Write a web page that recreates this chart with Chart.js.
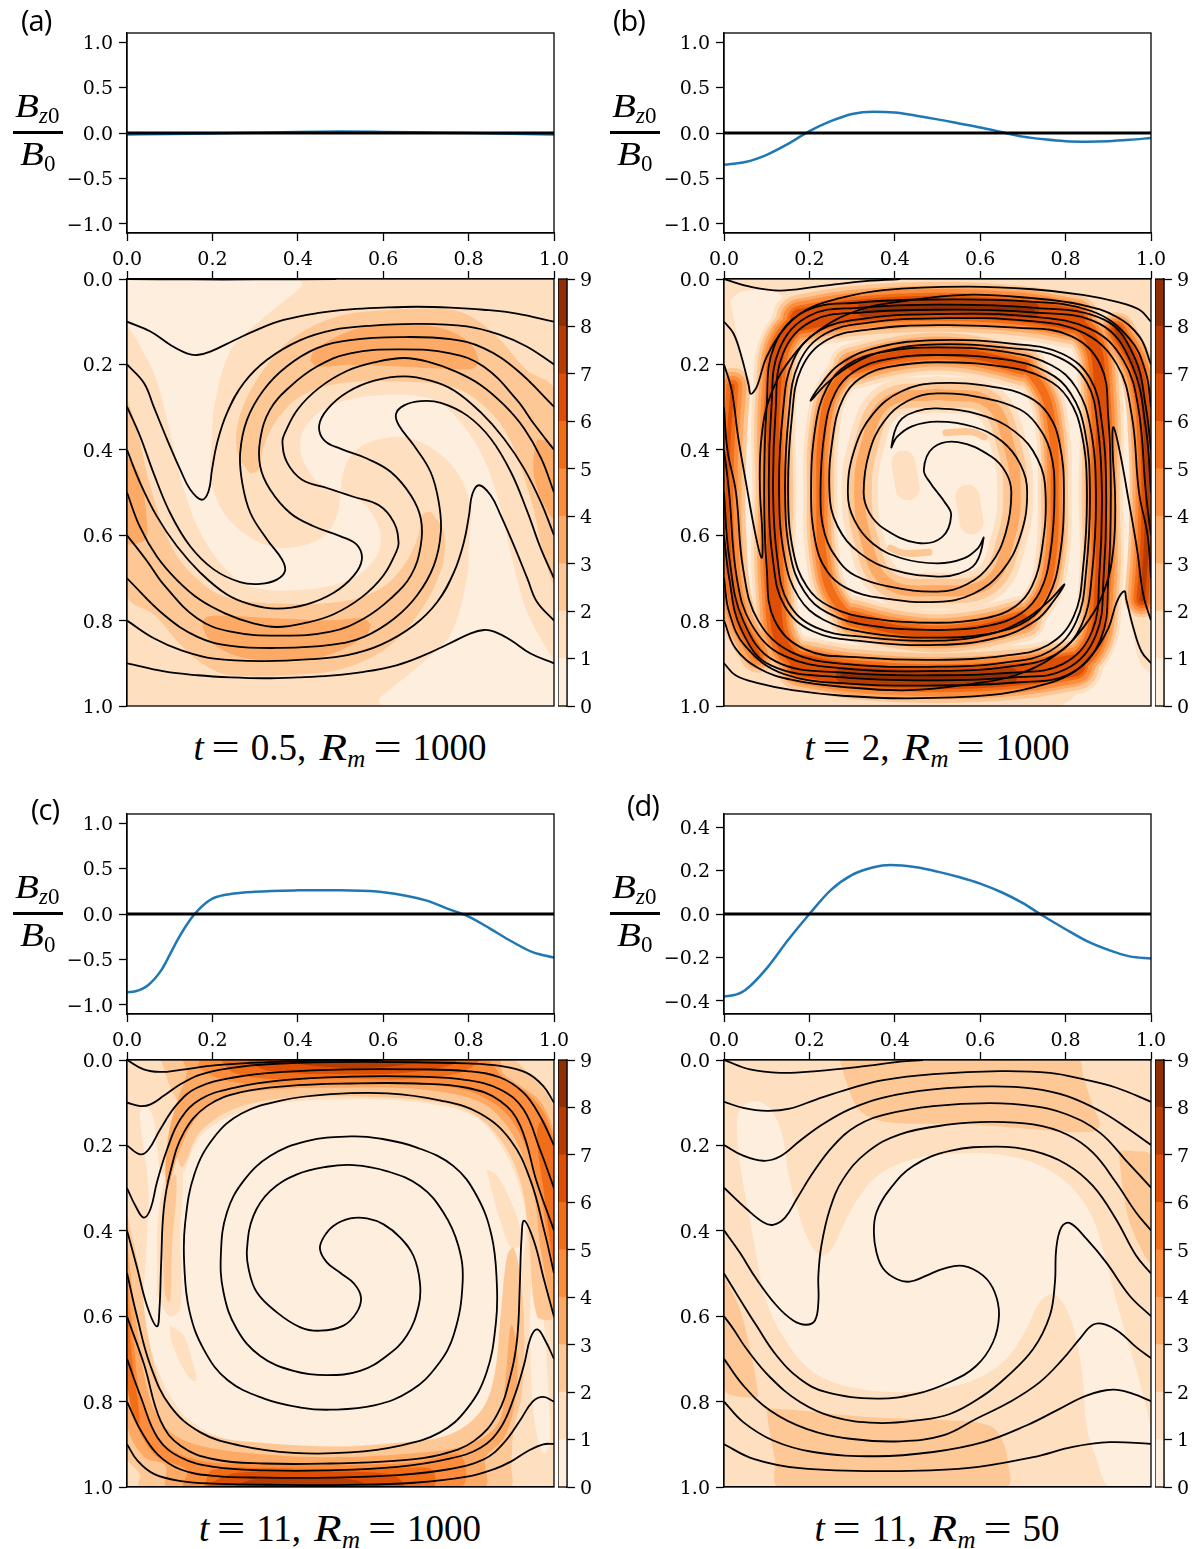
<!DOCTYPE html>
<html>
<head>
<meta charset="utf-8">
<title>Bz0 and field lines</title>
<script src="https://cdn.jsdelivr.net/npm/chart.js@4"></script>
<style>
  body { margin: 0; background: #fff; }
  #page { position: relative; width: 1196px; height: 1549px; overflow: hidden; }
  canvas { position: absolute; }
  .note { position: absolute; white-space: nowrap; color: #000; }
  .letter { font: 29px "Open Sans", sans-serif; letter-spacing: -1px; }
  .title { font: 37px "Liberation Serif", serif; transform: translateX(-50%); }
  .title .eq { display: inline-block; width: 28px; margin: 0 11px 0 8px; transform: scaleX(1.35); transform-origin: left; }
  .title .big { display: inline-block; width: 28px; margin-left: 13px; transform: scaleX(1.22); transform-origin: left; font-style: italic; }
  .title sub { font-size: 25px; line-height: 0; vertical-align: -7px; font-style: italic; }
  .math { font: italic 34px "Liberation Serif", serif; }
  .math .big { display: inline-block; width: 24px; transform: scaleX(1.15); transform-origin: left; }
  .math sub { font-size: 23px; line-height: 0; vertical-align: -6px; }
  .math sub b { font-weight: normal; font-style: normal; }
  .bar { position: absolute; width: 50px; height: 3px; background: #000; }
</style>
</head>
<body>
<div id="page"></div>
<script>
// ---------- data ----------
const unitTicks = [-1, -0.5, 0, 0.5, 1]
const smallTicks = [-0.4, -0.2, 0, 0.2, 0.4]
const xTicks = [0, 0.2, 0.4, 0.6, 0.8, 1]
const colorTicks = [0, 1, 2, 3, 4, 5, 6, 7, 8, 9]

// orange colour of each contour band 0-1, 1-2 ... 8-9
const bandColors = ['#feeede', '#fedfc0', '#fdc896', '#fdaa66', '#fd8d3c', '#f26d17', '#de4f05', '#b73c02', '#902e04']

// Bz0/B0 curves
const curveA = [[0, -0.016], [0.1, -0.012], [0.2, -0.006], [0.3, 0.004], [0.4, 0.012], [0.5, 0.016], [0.6, 0.012], [0.7, 0.006], [0.8, 0], [0.9, -0.008], [1, -0.016]]
const curveB = [[0, -0.35], [0.05, -0.32], [0.1, -0.24], [0.15, -0.12], [0.2, 0.02], [0.25, 0.13], [0.3, 0.21], [0.35, 0.235], [0.4, 0.225], [0.45, 0.19], [0.5, 0.15], [0.55, 0.105], [0.6, 0.06], [0.65, 0.01], [0.7, -0.04], [0.75, -0.07], [0.8, -0.09], [0.85, -0.095], [0.9, -0.09], [0.95, -0.075], [1, -0.055]]
const curveC = [[0, -0.86], [0.02, -0.85], [0.05, -0.78], [0.08, -0.62], [0.1, -0.45], [0.12, -0.27], [0.15, -0.05], [0.17, 0.06], [0.2, 0.17], [0.25, 0.225], [0.3, 0.245], [0.4, 0.26], [0.45, 0.262], [0.5, 0.26], [0.6, 0.24], [0.7, 0.15], [0.75, 0.06], [0.8, -0.03], [0.85, -0.16], [0.9, -0.3], [0.95, -0.42], [1, -0.48]]
const curveD = [[0, -0.38], [0.03, -0.37], [0.05, -0.35], [0.1, -0.25], [0.15, -0.12], [0.2, 0], [0.25, 0.11], [0.3, 0.18], [0.35, 0.215], [0.39, 0.225], [0.45, 0.215], [0.5, 0.195], [0.55, 0.17], [0.6, 0.14], [0.65, 0.1], [0.7, 0.05], [0.74, 0], [0.8, -0.07], [0.85, -0.125], [0.9, -0.165], [0.95, -0.195], [1, -0.205]]
const zeroLine = [[0, 0], [1, 0]]

const wholeBox = [[0, 0], [1, 0], [1, 1], [0, 1], [0, 0]]

// panel (a): contour regions as [band, outline], painted in order
const regionsA = [
  [1, wholeBox],
  [0, [[0.5, 0.5], [0.491, 0.556], [0.46, 0.603], [0.398, 0.627], [0.335, 0.626], [0.273, 0.595], [0.222, 0.54], [0.195, 0.462], [0.199, 0.385], [0.204, 0.3], [0.243, 0.166], [0.314, 0.096], [0.37, 0.05], [0.41, 0.014], [0.398, 0], [0, 0], [0, 0.1], [0.027, 0.15], [0.066, 0.228], [0.098, 0.345], [0.133, 0.493], [0.172, 0.594], [0.226, 0.673], [0.289, 0.72], [0.421, 0.727], [0.53, 0.7], [0.585, 0.649], [0.594, 0.6], [0.58, 0.56], [0.55, 0.522], [0.5, 0.5]]],
  [0, [[0.5, 0.5], [0.509, 0.444], [0.54, 0.397], [0.602, 0.373], [0.665, 0.374], [0.727, 0.405], [0.778, 0.46], [0.805, 0.538], [0.801, 0.615], [0.796, 0.7], [0.757, 0.834], [0.686, 0.904], [0.63, 0.95], [0.59, 0.986], [0.602, 1], [1, 1], [1, 0.9], [0.973, 0.85], [0.934, 0.772], [0.902, 0.655], [0.867, 0.507], [0.828, 0.406], [0.774, 0.327], [0.711, 0.28], [0.579, 0.273], [0.47, 0.3], [0.415, 0.351], [0.406, 0.4], [0.42, 0.44], [0.45, 0.478], [0.5, 0.5]]],
  [2, [[0.289, 0.456], [0.261, 0.415], [0.256, 0.361], [0.269, 0.306], [0.304, 0.236], [0.374, 0.15], [0.468, 0.096], [0.562, 0.076], [0.757, 0.072], [0.819, 0.096], [0.874, 0.143], [0.936, 0.213], [1, 0.26], [1, 0.71], [0.975, 0.641], [0.944, 0.509], [0.889, 0.361], [0.819, 0.283], [0.757, 0.252], [0.64, 0.24], [0.499, 0.244], [0.406, 0.275], [0.351, 0.33], [0.32, 0.392], [0.308, 0.447], [0.289, 0.456]]],
  [2, [[0.711, 0.544], [0.739, 0.585], [0.744, 0.639], [0.731, 0.694], [0.696, 0.764], [0.626, 0.85], [0.532, 0.904], [0.438, 0.924], [0.243, 0.928], [0.181, 0.904], [0.126, 0.857], [0.064, 0.787], [0, 0.74], [0, 0.29], [0.025, 0.359], [0.056, 0.491], [0.111, 0.639], [0.181, 0.717], [0.243, 0.748], [0.36, 0.76], [0.501, 0.756], [0.594, 0.725], [0.649, 0.67], [0.68, 0.608], [0.692, 0.553], [0.711, 0.544]]],
  [3, [[0.429, 0.19], [0.437, 0.17], [0.484, 0.138], [0.562, 0.111], [0.679, 0.107], [0.749, 0.119], [0.803, 0.15], [0.823, 0.19], [0.811, 0.209], [0.757, 0.211], [0.64, 0.205], [0.523, 0.201], [0.445, 0.205], [0.429, 0.19]]],
  [3, [[0.571, 0.81], [0.563, 0.83], [0.516, 0.862], [0.438, 0.889], [0.321, 0.893], [0.251, 0.881], [0.197, 0.85], [0.177, 0.81], [0.189, 0.791], [0.243, 0.789], [0.36, 0.795], [0.477, 0.799], [0.555, 0.795], [0.571, 0.81]]],
  [3, [[0, 0.415], [0.03, 0.462], [0.047, 0.571], [0.043, 0.61], [0.008, 0.622], [0, 0.618], [0, 0.415]]],
  [3, [[0.96, 0.376], [0.983, 0.38], [1, 0.4], [1, 0.56], [0.975, 0.525], [0.955, 0.47], [0.952, 0.42], [0.96, 0.376]]]
]

// panel (a): field lines
const linesA = [
  [[0, 0], [0.15, 0.001], [0.3, 0.001], [0.49, 0]],
  [[0, 0.1], [0.055, 0.123], [0.101, 0.154], [0.14, 0.174], [0.164, 0.178], [0.195, 0.17], [0.25, 0.144], [0.304, 0.119], [0.367, 0.096], [0.445, 0.08], [0.523, 0.071], [0.6, 0.067], [0.679, 0.065], [0.757, 0.067], [0.835, 0.072], [0.913, 0.081], [1, 0.1]],
  [[0, 0.2], [0.04, 0.244], [0.0625, 0.299], [0.094, 0.376], [0.125, 0.447], [0.148, 0.493], [0.175, 0.517], [0.191, 0.497], [0.199, 0.447], [0.211, 0.384], [0.234, 0.314], [0.273, 0.244], [0.328, 0.189], [0.406, 0.143], [0.484, 0.119], [0.562, 0.11], [0.679, 0.105], [0.796, 0.111], [0.874, 0.131], [0.936, 0.158], [1, 0.2]],
  [[0, 0.299], [0.031, 0.369], [0.062, 0.454], [0.101, 0.548], [0.148, 0.626], [0.203, 0.68], [0.265, 0.71], [0.312, 0.714], [0.351, 0.704], [0.37, 0.684], [0.363, 0.657], [0.328, 0.61], [0.289, 0.548], [0.27, 0.478], [0.265, 0.408], [0.281, 0.33], [0.32, 0.26], [0.374, 0.205], [0.445, 0.162], [0.523, 0.143], [0.64, 0.136], [0.757, 0.141], [0.835, 0.162], [0.913, 0.213], [1, 0.299]],
  [[0, 0.4], [0.031, 0.478], [0.07, 0.556], [0.117, 0.626], [0.172, 0.688], [0.234, 0.739], [0.289, 0.762], [0.351, 0.772], [0.421, 0.762], [0.484, 0.735], [0.53, 0.696], [0.55, 0.657], [0.538, 0.622], [0.499, 0.602], [0.437, 0.579], [0.382, 0.548], [0.335, 0.493], [0.312, 0.439], [0.312, 0.376], [0.335, 0.306], [0.382, 0.252], [0.445, 0.205], [0.523, 0.174], [0.64, 0.165], [0.757, 0.174], [0.835, 0.205], [0.913, 0.283], [0.952, 0.338], [1, 0.4]],
  [[0, 0.5], [0.03, 0.58], [0.07, 0.65], [0.117, 0.705], [0.172, 0.752], [0.234, 0.785], [0.29, 0.805], [0.351, 0.815], [0.42, 0.805], [0.484, 0.785], [0.55, 0.745], [0.6, 0.695], [0.63, 0.64], [0.636, 0.618], [0.625, 0.57], [0.59, 0.53], [0.53, 0.51], [0.5, 0.5], [0.47, 0.49], [0.41, 0.47], [0.375, 0.43], [0.364, 0.382], [0.37, 0.36], [0.4, 0.305], [0.45, 0.255], [0.516, 0.215], [0.58, 0.195], [0.649, 0.185], [0.71, 0.195], [0.766, 0.215], [0.828, 0.248], [0.883, 0.295], [0.93, 0.35], [0.97, 0.42], [1, 0.5]],
  [[1, 0.6], [0.969, 0.522], [0.93, 0.444], [0.883, 0.374], [0.828, 0.312], [0.766, 0.261], [0.711, 0.238], [0.649, 0.228], [0.579, 0.238], [0.516, 0.265], [0.47, 0.304], [0.45, 0.343], [0.462, 0.378], [0.501, 0.398], [0.563, 0.421], [0.618, 0.452], [0.665, 0.507], [0.688, 0.561], [0.688, 0.624], [0.665, 0.694], [0.618, 0.748], [0.555, 0.795], [0.477, 0.826], [0.36, 0.835], [0.243, 0.826], [0.165, 0.795], [0.087, 0.717], [0.048, 0.662], [0, 0.6]],
  [[1, 0.701], [0.969, 0.631], [0.938, 0.546], [0.899, 0.452], [0.852, 0.374], [0.797, 0.32], [0.735, 0.29], [0.688, 0.286], [0.649, 0.296], [0.63, 0.316], [0.637, 0.343], [0.672, 0.39], [0.711, 0.452], [0.73, 0.522], [0.735, 0.592], [0.719, 0.67], [0.68, 0.74], [0.626, 0.795], [0.555, 0.838], [0.477, 0.857], [0.36, 0.864], [0.243, 0.859], [0.165, 0.838], [0.087, 0.787], [0, 0.701]],
  [[1, 0.8], [0.96, 0.756], [0.9375, 0.701], [0.906, 0.624], [0.875, 0.553], [0.852, 0.507], [0.825, 0.483], [0.809, 0.503], [0.801, 0.553], [0.789, 0.616], [0.766, 0.686], [0.727, 0.756], [0.672, 0.811], [0.594, 0.857], [0.516, 0.881], [0.438, 0.89], [0.321, 0.895], [0.204, 0.889], [0.126, 0.869], [0.064, 0.842], [0, 0.8]],
  [[1, 0.9], [0.945, 0.877], [0.899, 0.846], [0.86, 0.826], [0.836, 0.822], [0.805, 0.83], [0.75, 0.856], [0.696, 0.881], [0.633, 0.904], [0.555, 0.92], [0.477, 0.929], [0.4, 0.933], [0.321, 0.935], [0.243, 0.933], [0.165, 0.928], [0.087, 0.919], [0, 0.9]]
]

// panel (b): contour regions
const regionsB = [
  [1, wholeBox],
  [0, [[0.06, 0.18], [0.12, 0.1], [0.88, 0.1], [0.945, 0.2], [0.945, 0.82], [0.88, 0.9], [0.12, 0.9], [0.055, 0.8], [0.06, 0.18]]],
  [0, [[0.015, 0.05], [0.04, 0.03], [0.12, 0.03], [0.145, 0.06], [0.13, 0.11], [0.09, 0.18], [0.06, 0.25], [0.03, 0.13], [0.015, 0.05]]],
  [0, [[0.79, 1], [0.85, 0.95], [0.91, 0.85], [0.93, 0.73], [0.95, 0.8], [0.975, 0.9], [1, 0.93], [1, 1], [0.79, 1]]]
]

// panel (b): centre lines of the spiral colour bands
const ringOuterB = [[0.5, 0.065], [0.72, 0.073], [0.85, 0.125], [0.882, 0.28], [0.882, 0.5], [0.882, 0.72], [0.85, 0.875], [0.72, 0.927], [0.5, 0.935], [0.28, 0.927], [0.15, 0.875], [0.118, 0.72], [0.118, 0.5], [0.118, 0.28], [0.15, 0.125], [0.28, 0.073], [0.5, 0.065]]
const arcTopB = [[0.18, 0.095], [0.3, 0.075], [0.5, 0.065], [0.7, 0.075], [0.82, 0.095]]
const arcBottomB = [[0.82, 0.905], [0.7, 0.925], [0.5, 0.935], [0.3, 0.925], [0.18, 0.905]]
const coreTopB = [[0.33, 0.072], [0.5, 0.065], [0.72, 0.072]]
const coreBottomB = [[0.67, 0.928], [0.5, 0.935], [0.28, 0.928]]
const ringMiddleB = [[0.5, 0.17], [0.66, 0.185], [0.74, 0.25], [0.77, 0.36], [0.774, 0.5], [0.77, 0.64], [0.74, 0.75], [0.66, 0.815], [0.5, 0.83], [0.34, 0.815], [0.26, 0.75], [0.23, 0.64], [0.226, 0.5], [0.23, 0.36], [0.26, 0.25], [0.34, 0.185], [0.5, 0.17]]
const arcMiddleTopB = [[0.3, 0.205], [0.4, 0.18], [0.5, 0.17], [0.6, 0.18], [0.7, 0.205]]
const arcMiddleBottomB = [[0.7, 0.795], [0.6, 0.82], [0.5, 0.83], [0.4, 0.82], [0.3, 0.795]]
const ringInnerB = [[0.5, 0.27], [0.62, 0.29], [0.67, 0.4], [0.682, 0.5], [0.67, 0.6], [0.62, 0.71], [0.5, 0.73], [0.38, 0.71], [0.33, 0.6], [0.318, 0.5], [0.33, 0.4], [0.38, 0.29], [0.5, 0.27]]
const leftEdgeB = [[0.02, 0.25], [0.01, 0.4], [0.01, 0.6], [0.03, 0.78], [0.08, 0.88]]
const rightEdgeB = [[0.98, 0.75], [0.99, 0.6], [0.99, 0.4], [0.97, 0.22], [0.92, 0.12]]
const centreBlobsB = [[[0.42, 0.43], [0.43, 0.49]], [[0.58, 0.57], [0.57, 0.51]]]
const smallBlobsB = [[[0.52, 0.36], [0.58, 0.358], [0.61, 0.37]], [[0.48, 0.64], [0.42, 0.642], [0.39, 0.63]]]

// panel (b): field lines
const linesB = [
  [[0, 0], [0.061, 0.018], [0.131, 0.027], [0.217, 0.018], [0.318, 0.006], [0.412, 0]],
  [[0, 0.1], [0.022, 0.127], [0.041, 0.182], [0.058, 0.25], [0.0624, 0.269], [0.0725, 0.26], [0.08, 0.244], [0.1, 0.182], [0.139, 0.119], [0.193, 0.072], [0.271, 0.045], [0.373, 0.026], [0.567, 0.018], [0.723, 0.024], [0.84, 0.037], [0.918, 0.053], [0.973, 0.072], [1, 0.1]],
  [[0, 0.2], [0.018, 0.26], [0.033, 0.369], [0.053, 0.485], [0.073, 0.595], [0.088, 0.653], [0.09, 0.603], [0.084, 0.485], [0.088, 0.369], [0.108, 0.275], [0.154, 0.19], [0.224, 0.119], [0.318, 0.072], [0.412, 0.053], [0.567, 0.037], [0.723, 0.045], [0.84, 0.061], [0.918, 0.088], [0.973, 0.135], [1, 0.2]],
  [[0, 0.3], [0.008, 0.4], [0.028, 0.5], [0.045, 0.68], [0.08, 0.8], [0.16, 0.875], [0.288, 0.902], [0.5, 0.908], [0.661, 0.898], [0.764, 0.871], [0.825, 0.802], [0.848, 0.684], [0.857, 0.5], [0.845, 0.355], [0.812, 0.268], [0.757, 0.218], [0.661, 0.189], [0.5, 0.178], [0.377, 0.189], [0.303, 0.218], [0.26, 0.268], [0.236, 0.355], [0.226, 0.5], [0.236, 0.597], [0.27, 0.662], [0.308, 0.695], [0.385, 0.72], [0.5, 0.732], [0.569, 0.715], [0.625, 0.667], [0.66, 0.593], [0.673, 0.5], [0.66, 0.453], [0.625, 0.415], [0.548, 0.382], [0.49, 0.395], [0.468, 0.447], [0.485, 0.48], [0.5, 0.5], [0.515, 0.52], [0.532, 0.553], [0.51, 0.605], [0.452, 0.618], [0.375, 0.585], [0.34, 0.547], [0.327, 0.5], [0.34, 0.407], [0.375, 0.333], [0.431, 0.285], [0.5, 0.268], [0.615, 0.28], [0.692, 0.305], [0.73, 0.338], [0.764, 0.403], [0.774, 0.5], [0.764, 0.645], [0.74, 0.732], [0.697, 0.782], [0.623, 0.811], [0.5, 0.822], [0.339, 0.811], [0.243, 0.782], [0.188, 0.732], [0.155, 0.645], [0.143, 0.5], [0.152, 0.316], [0.175, 0.198], [0.236, 0.129], [0.339, 0.102], [0.5, 0.092], [0.712, 0.098], [0.84, 0.125], [0.92, 0.2], [0.955, 0.32], [0.972, 0.5], [0.992, 0.6], [1, 0.7]],
  [[0, 0.4], [0.012, 0.5], [0.03, 0.7], [0.065, 0.81], [0.14, 0.882], [0.28, 0.912], [0.5, 0.918], [0.667, 0.908], [0.775, 0.88], [0.838, 0.809], [0.862, 0.688], [0.871, 0.5], [0.858, 0.347], [0.825, 0.255], [0.767, 0.202], [0.667, 0.172], [0.5, 0.16], [0.367, 0.172], [0.287, 0.202], [0.241, 0.255], [0.214, 0.347], [0.204, 0.5], [0.214, 0.615], [0.241, 0.684], [0.287, 0.724], [0.367, 0.747], [0.5, 0.756], [0.584, 0.737], [0.651, 0.684], [0.694, 0.602], [0.71, 0.5], [0.694, 0.434], [0.651, 0.38], [0.584, 0.346], [0.5, 0.334], [0.44, 0.345], [0.405, 0.37], [0.392, 0.394], [0.41, 0.335], [0.45, 0.31], [0.5, 0.303], [0.601, 0.318], [0.682, 0.358], [0.734, 0.421], [0.753, 0.5], [0.744, 0.637], [0.721, 0.72], [0.682, 0.767], [0.614, 0.794], [0.5, 0.805], [0.342, 0.794], [0.248, 0.767], [0.194, 0.72], [0.162, 0.637], [0.15, 0.5], [0.159, 0.324], [0.181, 0.21], [0.241, 0.143], [0.342, 0.118], [0.5, 0.108], [0.683, 0.114], [0.809, 0.132], [0.882, 0.202], [0.9, 0.324], [0.906, 0.5], [0.9, 0.703], [0.882, 0.844], [0.809, 0.925], [0.683, 0.945], [0.5, 0.952], [0.3, 0.948], [0.14, 0.925], [0.05, 0.86], [0.012, 0.78], [0, 0.7]],
  [[1, 0.6], [0.988, 0.5], [0.97, 0.3], [0.935, 0.19], [0.86, 0.118], [0.72, 0.088], [0.5, 0.082], [0.333, 0.092], [0.225, 0.12], [0.162, 0.191], [0.138, 0.312], [0.129, 0.5], [0.142, 0.653], [0.175, 0.745], [0.233, 0.798], [0.333, 0.828], [0.5, 0.84], [0.633, 0.828], [0.713, 0.798], [0.759, 0.745], [0.786, 0.653], [0.796, 0.5], [0.786, 0.385], [0.759, 0.316], [0.713, 0.276], [0.633, 0.253], [0.5, 0.244], [0.416, 0.263], [0.349, 0.316], [0.306, 0.398], [0.29, 0.5], [0.306, 0.566], [0.349, 0.62], [0.416, 0.654], [0.5, 0.666], [0.56, 0.655], [0.595, 0.63], [0.608, 0.606], [0.59, 0.665], [0.55, 0.69], [0.5, 0.697], [0.399, 0.682], [0.318, 0.642], [0.266, 0.579], [0.247, 0.5], [0.256, 0.363], [0.279, 0.28], [0.318, 0.233], [0.386, 0.206], [0.5, 0.195], [0.658, 0.206], [0.752, 0.233], [0.806, 0.28], [0.838, 0.363], [0.85, 0.5], [0.841, 0.676], [0.819, 0.79], [0.759, 0.857], [0.658, 0.882], [0.5, 0.892], [0.317, 0.886], [0.191, 0.868], [0.118, 0.798], [0.1, 0.676], [0.094, 0.5], [0.1, 0.297], [0.118, 0.156], [0.191, 0.075], [0.317, 0.055], [0.5, 0.048], [0.7, 0.052], [0.86, 0.075], [0.95, 0.14], [0.988, 0.22], [1, 0.3]],
  [[0, 0.6], [0.012, 0.7], [0.04, 0.82], [0.11, 0.905], [0.28, 0.933], [0.5, 0.94], [0.678, 0.933], [0.8, 0.914], [0.871, 0.834], [0.889, 0.698], [0.895, 0.5], [0.885, 0.339], [0.859, 0.236], [0.792, 0.175], [0.678, 0.152], [0.5, 0.143], [0.36, 0.16], [0.27, 0.2], [0.225, 0.25], [0.203, 0.285], [0.24, 0.245], [0.3, 0.2], [0.38, 0.168], [0.5, 0.153], [0.673, 0.162], [0.785, 0.184], [0.85, 0.243], [0.875, 0.344], [0.885, 0.5], [0.879, 0.693], [0.862, 0.825], [0.793, 0.902], [0.673, 0.922], [0.5, 0.928], [0.28, 0.922], [0.12, 0.895], [0.045, 0.8], [0.012, 0.65], [0, 0.5]],
  [[1, 0.4], [0.988, 0.3], [0.96, 0.18], [0.89, 0.095], [0.72, 0.067], [0.5, 0.06], [0.322, 0.067], [0.2, 0.086], [0.129, 0.166], [0.111, 0.302], [0.105, 0.5], [0.115, 0.661], [0.141, 0.764], [0.208, 0.825], [0.322, 0.848], [0.5, 0.857], [0.64, 0.84], [0.73, 0.8], [0.775, 0.75], [0.797, 0.715], [0.76, 0.755], [0.7, 0.8], [0.62, 0.832], [0.5, 0.847], [0.327, 0.838], [0.215, 0.816], [0.15, 0.757], [0.125, 0.656], [0.115, 0.5], [0.121, 0.307], [0.138, 0.175], [0.207, 0.098], [0.327, 0.078], [0.5, 0.072], [0.72, 0.078], [0.88, 0.105], [0.955, 0.2], [0.988, 0.35], [1, 0.5]],
  [[1, 0.8], [0.982, 0.74], [0.967, 0.631], [0.947, 0.515], [0.927, 0.405], [0.912, 0.347], [0.91, 0.397], [0.916, 0.515], [0.912, 0.631], [0.892, 0.725], [0.846, 0.81], [0.776, 0.881], [0.682, 0.928], [0.588, 0.947], [0.433, 0.963], [0.277, 0.955], [0.16, 0.939], [0.082, 0.912], [0.027, 0.865], [0, 0.8]],
  [[1, 0.9], [0.978, 0.873], [0.959, 0.818], [0.942, 0.75], [0.9375, 0.731], [0.92, 0.756], [0.9, 0.818], [0.861, 0.881], [0.807, 0.928], [0.729, 0.955], [0.627, 0.974], [0.433, 0.982], [0.277, 0.976], [0.16, 0.963], [0.082, 0.947], [0.027, 0.928], [0, 0.9]]
]

// panel (c): contour regions
const regionsC = [
  [1, wholeBox],
  [0, [[0.135, 0.26], [0.172, 0.178], [0.25, 0.128], [0.367, 0.1], [0.562, 0.092], [0.718, 0.104], [0.819, 0.135], [0.881, 0.209], [0.92, 0.3], [0.935, 0.38], [0.925, 0.5], [0.915, 0.65], [0.885, 0.8], [0.83, 0.86], [0.763, 0.885], [0.64, 0.895], [0.484, 0.905], [0.328, 0.9], [0.21, 0.88], [0.133, 0.83], [0.078, 0.74], [0.04, 0.6], [0.045, 0.45], [0.05, 0.3], [0.03, 0.13], [0.04, 0.105], [0.06, 0.13], [0.07, 0.2], [0.085, 0.27], [0.135, 0.26]]],
  [0, [[0.955, 0.45], [0.975, 0.6], [0.985, 0.75], [0.99, 0.9], [0.975, 0.92], [0.955, 0.85], [0.945, 0.7], [0.945, 0.55], [0.955, 0.45]]],
  [1, [[0.07, 0.55], [0.075, 0.35], [0.11, 0.22], [0.13, 0.25], [0.125, 0.4], [0.125, 0.58], [0.1, 0.6], [0.07, 0.55]]],
  [1, [[0.101, 0.622], [0.133, 0.646], [0.156, 0.717], [0.162, 0.751], [0.148, 0.747], [0.117, 0.693], [0.101, 0.646], [0.101, 0.622]]],
  [1, [[0.842, 0.256], [0.865, 0.268], [0.893, 0.318], [0.917, 0.38], [0.925, 0.43], [0.9, 0.44], [0.875, 0.38], [0.855, 0.31], [0.842, 0.256]]],
  [2, [[0.09, 0.3], [0.115, 0.27], [0.105, 0.45], [0.102, 0.56], [0.095, 0.565], [0.087, 0.53], [0.085, 0.4], [0.09, 0.3]]],
  [2, [[0.08, 0], [0.1, 0.06], [0.13, 0.13], [0.115, 0.2], [0.13, 0.25], [0.17, 0.17], [0.25, 0.115], [0.36, 0.09], [0.5, 0.085], [0.7, 0.095], [0.8, 0.12], [0.87, 0.18], [0.92, 0.28], [0.94, 0.4], [0.96, 0.6], [1, 0.6], [1, 0.12], [0.97, 0.06], [0.94, 0.03], [0.9, 0], [0.08, 0]]],
  [2, [[0, 0.36], [0.03, 0.5], [0.05, 0.65], [0.085, 0.78], [0.13, 0.84], [0.2, 0.88], [0.3, 0.895], [0.5, 0.905], [0.65, 0.895], [0.76, 0.875], [0.83, 0.82], [0.86, 0.74], [0.875, 0.6], [0.89, 0.46], [0.905, 0.44], [0.92, 0.5], [0.93, 0.62], [0.925, 0.78], [0.905, 0.87], [0.9, 0.95], [0.895, 1], [0.03, 1], [0.03, 0.97], [0, 0.93], [0, 0.36]]],
  [3, [[0.13, 0], [0.14, 0.03], [0.12, 0.09], [0.1, 0.16], [0.09, 0.25], [0.095, 0.3], [0.12, 0.22], [0.16, 0.14], [0.22, 0.09], [0.33, 0.07], [0.5, 0.065], [0.7, 0.07], [0.83, 0.1], [0.9, 0.17], [0.95, 0.3], [0.97, 0.45], [1, 0.58], [1, 0.18], [0.97, 0.1], [0.92, 0.06], [0.88, 0.03], [0.87, 0], [0.13, 0]]],
  [3, [[0, 0.42], [0.02, 0.6], [0.05, 0.78], [0.09, 0.86], [0.16, 0.9], [0.3, 0.922], [0.5, 0.93], [0.68, 0.92], [0.8, 0.9], [0.87, 0.85], [0.885, 0.76], [0.9, 0.62], [0.915, 0.7], [0.905, 0.82], [0.88, 0.89], [0.84, 0.93], [0.835, 1], [0.095, 1], [0.09, 0.95], [0.04, 0.93], [0, 0.85], [0, 0.42]]],
  [4, [[0.17, 0], [0.17, 0.02], [0.24, 0.05], [0.34, 0.058], [0.5, 0.055], [0.7, 0.058], [0.82, 0.08], [0.9, 0.14], [0.96, 0.28], [1, 0.5], [1, 0.2], [0.98, 0.13], [0.94, 0.08], [0.88, 0.04], [0.84, 0], [0.17, 0]]],
  [4, [[0, 0.5], [0.015, 0.65], [0.03, 0.78], [0.06, 0.86], [0.1, 0.91], [0.18, 0.94], [0.3, 0.945], [0.5, 0.948], [0.68, 0.942], [0.78, 0.925], [0.78, 1], [0.135, 1], [0.14, 0.96], [0.07, 0.93], [0.02, 0.85], [0, 0.75], [0, 0.5]]],
  [5, [[0.22, 0], [0.25, 0.03], [0.35, 0.045], [0.5, 0.043], [0.65, 0.045], [0.78, 0.03], [0.82, 0], [0.22, 0]]],
  [5, [[1, 0.2], [0.975, 0.14], [0.96, 0.17], [0.975, 0.3], [1, 0.47], [1, 0.2]]],
  [5, [[0, 0.55], [0.012, 0.7], [0.03, 0.85], [0.015, 0.83], [0, 0.75], [0, 0.55]]],
  [5, [[0.18, 1], [0.2, 0.96], [0.3, 0.955], [0.5, 0.958], [0.65, 0.955], [0.715, 0.96], [0.715, 1], [0.18, 1]]],
  [6, [[0.28, 0], [0.33, 0.025], [0.5, 0.033], [0.65, 0.03], [0.76, 0.012], [0.77, 0], [0.28, 0]]],
  [6, [[0.18, 1], [0.25, 0.968], [0.4, 0.965], [0.55, 0.965], [0.63, 0.975], [0.645, 1], [0.18, 1]]],
  [7, [[0.36, 0], [0.42, 0.012], [0.5, 0.018], [0.6, 0.017], [0.68, 0.005], [0.69, 0], [0.36, 0]]],
  [7, [[0.245, 1], [0.3, 0.982], [0.45, 0.978], [0.54, 0.985], [0.56, 1], [0.245, 1]]]
]

// panel (c): field lines
const linesC = [
  [[0, 0], [0.039, 0.022], [0.078, 0.028], [0.125, 0.023], [0.21, 0.012], [0.33, 0.005], [0.48, 0.001], [0.6, 0]],
  [[0, 0.1], [0.031, 0.108], [0.055, 0.104], [0.086, 0.084], [0.125, 0.057], [0.172, 0.034], [0.25, 0.018], [0.328, 0.01], [0.484, 0.005], [0.64, 0.005], [0.796, 0.008], [0.874, 0.014], [0.936, 0.03], [0.975, 0.061], [1, 0.1]],
  [[0, 0.2], [0.031, 0.221], [0.051, 0.209], [0.078, 0.162], [0.117, 0.104], [0.164, 0.065], [0.25, 0.041], [0.367, 0.028], [0.523, 0.022], [0.679, 0.022], [0.796, 0.026], [0.874, 0.041], [0.928, 0.076], [0.967, 0.131], [1, 0.2]],
  [[0, 0.3], [0.02, 0.342], [0.039, 0.369], [0.055, 0.349], [0.07, 0.287], [0.094, 0.209], [0.125, 0.139], [0.172, 0.092], [0.25, 0.065], [0.367, 0.047], [0.523, 0.039], [0.679, 0.039], [0.796, 0.047], [0.874, 0.069], [0.928, 0.115], [0.967, 0.209], [1, 0.3]],
  [[0, 0.399], [0.023, 0.484], [0.047, 0.576], [0.07, 0.624], [0.076, 0.583], [0.08, 0.475], [0.086, 0.35], [0.101, 0.264], [0.133, 0.17], [0.187, 0.108], [0.265, 0.076], [0.374, 0.061], [0.523, 0.055], [0.679, 0.055], [0.796, 0.065], [0.874, 0.096], [0.921, 0.154], [0.96, 0.287], [1, 0.399]],
  [[0, 0.499], [0.023, 0.599], [0.055, 0.716], [0.101, 0.81], [0.172, 0.872], [0.265, 0.903], [0.39, 0.92], [0.523, 0.919], [0.64, 0.903], [0.733, 0.872], [0.796, 0.817], [0.842, 0.732], [0.864, 0.615], [0.866, 0.521], [0.854, 0.412], [0.819, 0.318], [0.764, 0.248], [0.679, 0.205], [0.593, 0.184], [0.523, 0.179], [0.421, 0.19], [0.335, 0.225], [0.273, 0.283], [0.234, 0.357], [0.22, 0.451], [0.226, 0.544], [0.257, 0.63], [0.312, 0.693], [0.39, 0.728], [0.468, 0.738], [0.546, 0.728], [0.608, 0.693], [0.655, 0.646], [0.683, 0.576], [0.686, 0.521], [0.671, 0.459], [0.64, 0.416], [0.601, 0.385], [0.562, 0.371], [0.523, 0.371], [0.484, 0.388], [0.46, 0.416], [0.452, 0.443], [0.468, 0.474], [0.5, 0.499], [0.532, 0.524], [0.548, 0.556], [0.538, 0.591], [0.507, 0.622], [0.452, 0.634], [0.406, 0.626], [0.351, 0.591], [0.304, 0.544], [0.285, 0.49], [0.281, 0.443], [0.296, 0.365], [0.335, 0.307], [0.398, 0.268], [0.468, 0.25], [0.53, 0.246], [0.608, 0.26], [0.686, 0.295], [0.741, 0.357], [0.776, 0.435], [0.786, 0.521], [0.766, 0.641], [0.727, 0.715], [0.665, 0.774], [0.579, 0.809], [0.477, 0.819], [0.407, 0.814], [0.321, 0.793], [0.236, 0.75], [0.181, 0.68], [0.146, 0.587], [0.134, 0.477], [0.136, 0.384], [0.158, 0.267], [0.204, 0.181], [0.267, 0.126], [0.36, 0.095], [0.477, 0.08], [0.61, 0.078], [0.735, 0.095], [0.828, 0.126], [0.899, 0.189], [0.945, 0.282], [0.977, 0.399], [1, 0.499]],
  [[1, 0.601], [0.977, 0.516], [0.953, 0.424], [0.93, 0.376], [0.924, 0.417], [0.92, 0.525], [0.914, 0.65], [0.899, 0.736], [0.867, 0.83], [0.813, 0.892], [0.735, 0.924], [0.626, 0.939], [0.477, 0.945], [0.321, 0.945], [0.204, 0.935], [0.126, 0.904], [0.079, 0.846], [0.04, 0.713], [0, 0.601]],
  [[1, 0.7], [0.98, 0.658], [0.961, 0.631], [0.945, 0.651], [0.93, 0.713], [0.906, 0.791], [0.875, 0.861], [0.828, 0.908], [0.75, 0.935], [0.633, 0.953], [0.477, 0.961], [0.321, 0.961], [0.204, 0.953], [0.126, 0.931], [0.072, 0.885], [0.033, 0.791], [0, 0.7]],
  [[1, 0.8], [0.975, 0.789], [0.95, 0.8], [0.92, 0.845], [0.883, 0.896], [0.836, 0.935], [0.75, 0.959], [0.633, 0.972], [0.477, 0.978], [0.321, 0.978], [0.204, 0.974], [0.126, 0.959], [0.072, 0.924], [0.033, 0.869], [0, 0.8]],
  [[1, 0.899], [0.975, 0.9], [0.94, 0.915], [0.9, 0.94], [0.86, 0.958], [0.8, 0.975], [0.672, 0.99], [0.516, 0.995], [0.36, 0.995], [0.204, 0.992], [0.126, 0.986], [0.064, 0.97], [0.025, 0.939], [0, 0.9]],
  [[0, 1], [1, 1]]
]

// panel (d): contour regions
const regionsD = [
  [1, wholeBox],
  [0, [[0.03, 0.162], [0.034, 0.123], [0.062, 0.098], [0.096, 0.104], [0.119, 0.131], [0.139, 0.185], [0.15, 0.263], [0.17, 0.341], [0.193, 0.412], [0.225, 0.458], [0.252, 0.443], [0.279, 0.388], [0.318, 0.318], [0.365, 0.267], [0.443, 0.232], [0.537, 0.22], [0.63, 0.22], [0.724, 0.24], [0.802, 0.287], [0.857, 0.357], [0.888, 0.443], [0.911, 0.536], [0.951, 0.677], [0.974, 0.755], [1, 0.872], [1, 1], [0.903, 1], [0.872, 0.934], [0.849, 0.856], [0.841, 0.755], [0.825, 0.653], [0.802, 0.583], [0.771, 0.548], [0.739, 0.568], [0.708, 0.63], [0.661, 0.7], [0.591, 0.747], [0.505, 0.77], [0.404, 0.778], [0.295, 0.766], [0.209, 0.731], [0.147, 0.661], [0.1, 0.567], [0.069, 0.419], [0.037, 0.24], [0.03, 0.162]]],
  [2, [[0.271, 0], [0.287, 0.053], [0.31, 0.108], [0.342, 0.135], [0.412, 0.148], [0.568, 0.15], [0.724, 0.162], [0.864, 0.168], [0.88, 0.15], [0.864, 0.108], [0.841, 0.037], [0.829, 0], [0.271, 0]]],
  [2, [[0.1, 0.815], [0.104, 0.856], [0.119, 0.934], [0.129, 1], [0.661, 1], [0.665, 0.941], [0.65, 0.887], [0.622, 0.856], [0.529, 0.844], [0.334, 0.836], [0.178, 0.821], [0.1, 0.815]]],
  [2, [[0, 0.505], [0.037, 0.583], [0.061, 0.677], [0.08, 0.786], [0.073, 0.793], [0, 0.77], [0, 0.505]]],
  [2, [[0.925, 0.224], [0.93, 0.213], [0.958, 0.213], [1, 0.224], [1, 0.474], [0.981, 0.45], [0.95, 0.38], [0.934, 0.302], [0.925, 0.224]]]
]

// panel (d): field lines
const linesD = [
  [[0, 0], [0.061, 0.022], [0.131, 0.03], [0.217, 0.026], [0.334, 0.014], [0.412, 0.004], [0.466, 0]],
  [[0, 0.098], [0.045, 0.112], [0.1, 0.119], [0.154, 0.114], [0.217, 0.092], [0.295, 0.067], [0.373, 0.047], [0.49, 0.033], [0.646, 0.026], [0.763, 0.03], [0.841, 0.045], [0.919, 0.065], [1, 0.098]],
  [[0, 0.199], [0.045, 0.224], [0.092, 0.236], [0.131, 0.226], [0.178, 0.189], [0.232, 0.15], [0.295, 0.115], [0.373, 0.088], [0.49, 0.069], [0.622, 0.062], [0.724, 0.067], [0.802, 0.084], [0.88, 0.119], [0.942, 0.158], [1, 0.199]],
  [[0, 0.299], [0.053, 0.349], [0.092, 0.38], [0.115, 0.386], [0.143, 0.369], [0.17, 0.326], [0.209, 0.263], [0.256, 0.201], [0.311, 0.154], [0.381, 0.127], [0.49, 0.108], [0.622, 0.101], [0.724, 0.108], [0.802, 0.127], [0.88, 0.17], [0.942, 0.236], [1, 0.299]],
  [[0, 0.399], [0.037, 0.451], [0.076, 0.513], [0.123, 0.575], [0.162, 0.61], [0.192, 0.62], [0.213, 0.61], [0.221, 0.567], [0.221, 0.505], [0.228, 0.435], [0.248, 0.349], [0.279, 0.279], [0.334, 0.217], [0.412, 0.174], [0.529, 0.151], [0.622, 0.145], [0.724, 0.151], [0.802, 0.174], [0.864, 0.217], [0.918, 0.287], [0.965, 0.357], [1, 0.399]],
  [[0, 0.5], [0.037, 0.56], [0.076, 0.622], [0.123, 0.692], [0.178, 0.747], [0.24, 0.778], [0.357, 0.793], [0.45, 0.782], [0.529, 0.754], [0.591, 0.716], [0.63, 0.661], [0.644, 0.599], [0.634, 0.544], [0.607, 0.505], [0.56, 0.482], [0.513, 0.489], [0.474, 0.505], [0.435, 0.519], [0.404, 0.513], [0.373, 0.489], [0.357, 0.45], [0.351, 0.404], [0.357, 0.357], [0.388, 0.303], [0.443, 0.248], [0.529, 0.213], [0.638, 0.203], [0.724, 0.213], [0.802, 0.244], [0.864, 0.295], [0.918, 0.373], [0.965, 0.458], [1, 0.5]],
  [[0, 0.6], [0.022, 0.63], [0.053, 0.677], [0.108, 0.743], [0.178, 0.801], [0.256, 0.836], [0.357, 0.85], [0.451, 0.844], [0.529, 0.829], [0.607, 0.786], [0.661, 0.743], [0.724, 0.677], [0.763, 0.599], [0.775, 0.521], [0.778, 0.443], [0.79, 0.392], [0.81, 0.382], [0.849, 0.419], [0.895, 0.474], [0.95, 0.552], [1, 0.6]],
  [[0, 0.7], [0.045, 0.762], [0.108, 0.821], [0.193, 0.864], [0.295, 0.887], [0.412, 0.893], [0.513, 0.879], [0.591, 0.84], [0.669, 0.801], [0.739, 0.755], [0.794, 0.7], [0.833, 0.653], [0.864, 0.62], [0.892, 0.619], [0.927, 0.638], [0.966, 0.673], [1, 0.698]],
  [[0, 0.8], [0.045, 0.848], [0.115, 0.891], [0.209, 0.918], [0.357, 0.928], [0.49, 0.918], [0.607, 0.895], [0.708, 0.856], [0.786, 0.817], [0.849, 0.786], [0.911, 0.772], [0.958, 0.782], [1, 0.799]],
  [[0, 0.9], [0.069, 0.934], [0.178, 0.956], [0.373, 0.963], [0.568, 0.956], [0.724, 0.93], [0.817, 0.906], [0.903, 0.895], [1, 0.899]],
  [[0, 1], [1, 1]]
]

// ---------- drawing ----------
const tickFont = { family: '"DejaVu Serif", serif', size: 19 }
const page = document.getElementById('page')
const plotSize = 427

// draws the full box round an axes once the datasets are on
const framePlugin = {
  id: 'frame',
  afterDraw(chart) {
    const { ctx, chartArea: a } = chart
    ctx.save()
    ctx.strokeStyle = '#000'
    ctx.lineWidth = 1.3
    ctx.strokeRect(a.left, a.top, a.right - a.left, a.bottom - a.top)
    ctx.restore()
  }
}

function newCanvas(left, top, width, height) {
  const c = document.createElement('canvas')
  c.width = width
  c.height = height
  c.style.left = left + 'px'
  c.style.top = top + 'px'
  c.style.width = width + 'px'
  c.style.height = height + 'px'
  page.appendChild(c)
  return c
}

function axisLines(tickLength) {
  return {
    grid: { drawOnChartArea: false, tickLength: tickLength, tickColor: '#000', tickWidth: 1.3 },
    border: { color: '#000', width: 1.3 }
  }
}

function fixedTicks(values) {
  return chartScale => { chartScale.ticks = values.map(v => ({ value: v })) }
}

// keep the plot box where it belongs, tick labels may hang over the padding
function fixedSize(side, size) {
  return s => {
    s[side] = size
    s.paddingTop = s.paddingBottom = s.paddingLeft = s.paddingRight = 0
  }
}

function oneDecimal(v) {
  return v.toFixed(1).replace('-', '\u2212')
}

const baseOptions = {
  responsive: false,
  animation: false,
  events: [],
  plugins: { legend: { display: false }, tooltip: { enabled: false } }
}

// Bz0/B0 line panel, plot box is plotSize wide and 200 high
function curveChart(plotLeft, plotTop, curve, yTicks, yMax) {
  const canvas = newCanvas(plotLeft - 90, plotTop - 14, plotSize + 130, 268)
  new Chart(canvas, {
    type: 'line',
    data: {
      datasets: [
        { data: zeroLine, borderColor: '#000', borderWidth: 2.8, pointRadius: 0 },
        { data: curve, borderColor: '#1f77b4', borderWidth: 2.5, pointRadius: 0, cubicInterpolationMode: 'monotone' }
      ]
    },
    options: {
      ...baseOptions,
      layout: { padding: { top: 14, right: 40, left: 0, bottom: 0 } },
      scales: {
        x: {
          type: 'linear', min: 0, max: 1, ...axisLines(8),
          afterBuildTicks: fixedTicks(xTicks),
          afterFit: fixedSize('height', 54),
          ticks: { font: tickFont, color: '#000', padding: 8, maxRotation: 0, callback: oneDecimal }
        },
        y: {
          min: -yMax, max: yMax, ...axisLines(8),
          afterBuildTicks: fixedTicks(yTicks),
          afterFit: fixedSize('width', 90),
          ticks: { font: tickFont, color: '#000', padding: 6, labelOffset: 2, callback: oneDecimal }
        }
      }
    },
    plugins: [framePlugin]
  })
}

function regionDatasets(regions) {
  return regions.map(([band, outline]) => ({
    data: outline,
    borderWidth: 0,
    pointRadius: 0,
    tension: outline === wholeBox ? 0 : 0.35,
    backgroundColor: bandColors[band],
    fill: 'shape',
    clip: 0
  }))
}

function bandDatasets(strokes) {
  return strokes.map(([path, band, width]) => ({
    data: path,
    borderColor: bandColors[band],
    borderWidth: width,
    borderCapStyle: 'round',
    borderJoinStyle: 'round',
    pointRadius: 0,
    tension: 0.4,
    fill: false,
    clip: 0
  }))
}

function lineDatasets(lines) {
  return lines.map(line => ({
    data: line,
    borderColor: '#000',
    borderWidth: 1.8,
    pointRadius: 0,
    tension: 0.4,
    fill: false
  }))
}

// contourf + field lines panel. the first dataset is painted last, hence the reverse
function contourChart(plotLeft, plotTop, regions, strokes, lines) {
  const painted = [...regionDatasets(regions), ...bandDatasets(strokes), ...lineDatasets(lines)]
  const canvas = newCanvas(plotLeft - 90, plotTop - 14, plotSize + 130, plotSize + 28)
  new Chart(canvas, {
    type: 'line',
    data: { datasets: painted.reverse() },
    options: {
      ...baseOptions,
      layout: { padding: { top: 6, right: 40, left: 0, bottom: 14 } },
      scales: {
        x: {
          type: 'linear', position: 'top', min: 0, max: 1, ...axisLines(8),
          afterBuildTicks: fixedTicks(xTicks),
          afterFit: fixedSize('height', 8),
          ticks: { display: false }
        },
        y: {
          reverse: true, min: 0, max: 1, ...axisLines(8),
          afterBuildTicks: fixedTicks(xTicks),
          afterFit: fixedSize('width', 90),
          ticks: { font: tickFont, color: '#000', padding: 6, labelOffset: 2, callback: oneDecimal }
        }
      }
    },
    plugins: [framePlugin]
  })
}

function colorBar(barLeft, plotTop) {
  const canvas = newCanvas(barLeft, plotTop - 14, 45, plotSize + 28)
  new Chart(canvas, {
    type: 'bar',
    data: {
      labels: [''],
      datasets: bandColors.map((color, i) => ({
        data: [[colorTicks[i], colorTicks[i + 1]]],
        backgroundColor: color,
        barPercentage: 1,
        categoryPercentage: 1,
        grouped: false
      }))
    },
    options: {
      ...baseOptions,
      layout: { padding: { top: 14, bottom: 14, left: 0, right: 0 } },
      scales: {
        x: { display: false },
        y: {
          position: 'right', min: 0, max: 9, ...axisLines(8),
          afterBuildTicks: fixedTicks(colorTicks),
          afterFit: fixedSize('width', 36),
          ticks: { font: tickFont, color: '#000', padding: 5, labelOffset: 2, callback: v => String(v) }
        }
      }
    },
    plugins: [framePlugin]
  })
}

function note(className, left, top, html) {
  const d = document.createElement('div')
  d.className = 'note ' + className
  d.style.left = left + 'px'
  d.style.top = top + 'px'
  d.innerHTML = html
  page.appendChild(d)
}

function fraction(left, barTop) {
  const bar = document.createElement('div')
  bar.className = 'bar'
  bar.style.left = left + 'px'
  bar.style.top = barTop + 'px'
  page.appendChild(bar)
  note('math', left + 2, barTop - 44, '<span class="big">B</span><sub>z<b>0</b></sub>')
  note('math', left + 7, barTop + 4, '<span class="big">B</span><sub><b>0</b></sub>')
}

function titleHtml(time, rm) {
  return '<i>t</i><span class="eq">=</span>' + time + ',<span class="big">R</span><sub>m</sub><span class="eq">=</span>' + rm
}

// strokes of panel (b): [centre line, band, width], lighter bands first
const strokesB = [
  [ringOuterB, 1, 44], [arcTopB, 1, 58], [arcBottomB, 1, 58], [ringMiddleB, 1, 34], [arcMiddleTopB, 1, 46], [arcMiddleBottomB, 1, 46], [ringInnerB, 1, 36], [centreBlobsB[0], 1, 24], [centreBlobsB[1], 1, 24],
  [ringOuterB, 2, 38], [arcTopB, 2, 50], [arcBottomB, 2, 50], [ringMiddleB, 2, 27], [arcMiddleTopB, 2, 38], [arcMiddleBottomB, 2, 38], [ringInnerB, 2, 24], [leftEdgeB, 2, 36], [rightEdgeB, 2, 36], [smallBlobsB[0], 2, 7], [smallBlobsB[1], 2, 7],
  [ringOuterB, 3, 32], [arcTopB, 3, 42], [arcBottomB, 3, 42], [ringMiddleB, 3, 21], [arcMiddleTopB, 3, 30], [arcMiddleBottomB, 3, 30], [ringInnerB, 3, 11], [leftEdgeB, 3, 28], [rightEdgeB, 3, 30],
  [ringOuterB, 4, 26], [arcTopB, 4, 36], [arcBottomB, 4, 36], [ringMiddleB, 4, 15], [arcMiddleTopB, 4, 23], [arcMiddleBottomB, 4, 23], [leftEdgeB, 4, 20], [rightEdgeB, 4, 24],
  [ringOuterB, 5, 20], [arcTopB, 5, 28], [arcBottomB, 5, 28], [ringMiddleB, 5, 8], [arcMiddleTopB, 5, 16], [arcMiddleBottomB, 5, 16], [leftEdgeB, 5, 12], [rightEdgeB, 5, 18],
  [ringOuterB, 6, 12], [arcTopB, 6, 22], [arcBottomB, 6, 22], [arcMiddleTopB, 6, 9], [arcMiddleBottomB, 6, 9], [leftEdgeB, 6, 4], [rightEdgeB, 6, 12],
  [coreTopB, 7, 16], [coreBottomB, 7, 16], [rightEdgeB, 7, 5],
  [coreTopB, 8, 6], [coreBottomB, 8, 6]
]

const leftColumn = 127
const rightColumn = 724
const curveTopRow1 = 33
const fieldTopRow1 = 279
const curveTopRow2 = 814
const fieldTopRow2 = 1060

curveChart(leftColumn, curveTopRow1, curveA, unitTicks, 1.1)
curveChart(rightColumn, curveTopRow1, curveB, unitTicks, 1.1)
curveChart(leftColumn, curveTopRow2, curveC, unitTicks, 1.1)
curveChart(rightColumn, curveTopRow2, curveD, smallTicks, 0.46)

contourChart(leftColumn, fieldTopRow1, regionsA, [], linesA)
contourChart(rightColumn, fieldTopRow1, regionsB, strokesB, linesB)
contourChart(leftColumn, fieldTopRow2, regionsC, [], linesC)
contourChart(rightColumn, fieldTopRow2, regionsD, [], linesD)

colorBar(leftColumn + 431, fieldTopRow1)
colorBar(rightColumn + 431, fieldTopRow1)
colorBar(leftColumn + 431, fieldTopRow2)
colorBar(rightColumn + 431, fieldTopRow2)

note('letter', 21, 0, '(a)')
note('letter', 613, 0, '(b)')
note('letter', 31, 789, '(c)')
note('letter', 627, 785, '(d)')

fraction(13, 131)
fraction(610, 131)
fraction(13, 912)
fraction(610, 912)

note('title', 340, 726, titleHtml('0.5', '1000'))
note('title', 937, 726, titleHtml('2', '1000'))
note('title', 340, 1507, titleHtml('11', '1000'))
note('title', 937, 1507, titleHtml('11', '50'))
</script>
</body>
</html>
